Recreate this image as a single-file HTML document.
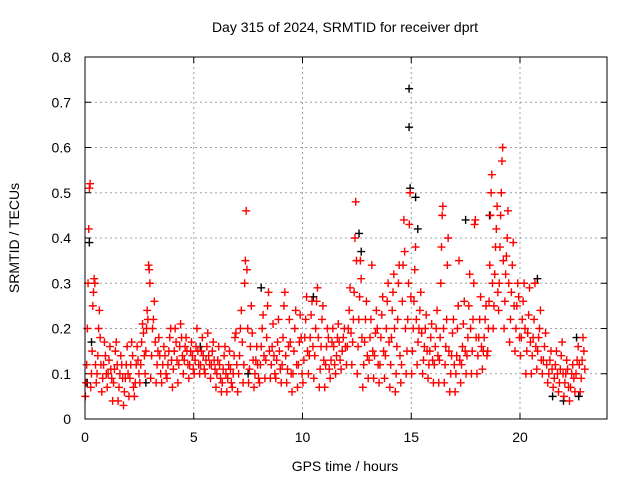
<!DOCTYPE html>
<html><head><meta charset="utf-8"><style>
body{margin:0;background:#fff;}
svg{display:block;font-family:"Liberation Sans",sans-serif;}
</style></head><body>
<svg id="chart" width="640" height="480">
<text x="345" y="32" font-size="14" text-anchor="middle">Day 315 of 2024, SRMTID for receiver dprt</text>
<text x="345" y="471" font-size="14" text-anchor="middle">GPS time / hours</text>
<text transform="translate(19,238) rotate(-90)" font-size="14" text-anchor="middle">SRMTID / TECUs</text>
<g id="grid"></g>
<g id="ticks"></g>
<g id="black"></g>
<g id="red"></g>
<rect x="85" y="57" width="522" height="362" fill="none" stroke="#000" stroke-width="1"/>
</svg>
<script>
const xTicks=[0,5,10,15,20];
const yTicks=[0,0.1,0.2,0.3,0.4,0.5,0.6,0.7,0.8];
const yTickLabels=["0","0.1","0.2","0.3","0.4","0.5","0.6","0.7","0.8"];
const binStart=0, binWidth=0.25;
const redBins=[
[0.05,0.08,0.12,0.2,0.3,0.42,0.51,0.52],[0.07,0.1,0.15,0.25,0.28,0.31,0.3,0.12],[0.08,0.1,0.14,0.2,0.24,0.18,0.12],[0.06,0.09,0.12,0.17,0.14,0.1],
[0.07,0.1,0.13,0.16,0.11,0.09],[0.04,0.08,0.11,0.15,0.17,0.12],[0.04,0.07,0.1,0.14,0.12,0.09],[0.03,0.06,0.09,0.12,0.16,0.1],
[0.05,0.09,0.12,0.17,0.14,0.07],[0.05,0.08,0.12,0.16,0.13,0.1],[0.08,0.12,0.17,0.21,0.19,0.14],[0.1,0.15,0.2,0.24,0.22,0.34,0.33,0.3],
[0.09,0.14,0.2,0.22,0.26,0.17],[0.08,0.12,0.15,0.18,0.14,0.1],[0.08,0.12,0.16,0.14,0.1],[0.09,0.12,0.15,0.18,0.2,0.13],
[0.07,0.11,0.15,0.2,0.17,0.13],[0.08,0.12,0.16,0.21,0.18,0.14],[0.1,0.13,0.16,0.18,0.15,0.12],[0.09,0.12,0.15,0.17,0.14,0.11],
[0.1,0.13,0.16,0.2,0.15,0.12],[0.1,0.12,0.15,0.18,0.14,0.11],[0.1,0.13,0.16,0.19,0.14,0.12],[0.09,0.12,0.15,0.17,0.13,0.11],
[0.07,0.1,0.13,0.16,0.12,0.09],[0.06,0.08,0.11,0.14,0.16,0.1],[0.06,0.09,0.12,0.15,0.11,0.08],[0.07,0.1,0.14,0.18,0.19,0.12],
[0.06,0.1,0.14,0.2,0.24,0.17],[0.08,0.12,0.3,0.35,0.46,0.33,0.2],[0.08,0.11,0.16,0.25,0.19,0.13],[0.07,0.1,0.13,0.16,0.12,0.09],
[0.08,0.12,0.16,0.2,0.23,0.14],[0.09,0.13,0.18,0.25,0.28,0.15],[0.09,0.12,0.16,0.21,0.14,0.1],[0.09,0.13,0.17,0.22,0.15,0.11],
[0.08,0.12,0.18,0.25,0.28,0.14],[0.08,0.11,0.16,0.22,0.17,0.1],[0.06,0.1,0.15,0.2,0.24,0.12],[0.07,0.12,0.17,0.23,0.18,0.1],
[0.08,0.13,0.18,0.22,0.27,0.15],[0.1,0.14,0.18,0.23,0.26,0.16],[0.09,0.14,0.2,0.26,0.29,0.18],[0.07,0.11,0.16,0.22,0.25,0.13],
[0.07,0.12,0.16,0.2,0.18,0.11],[0.09,0.13,0.17,0.2,0.16,0.12],[0.1,0.14,0.18,0.21,0.17,0.13],[0.11,0.15,0.18,0.2,0.16],
[0.12,0.16,0.2,0.24,0.29,0.19],[0.12,0.17,0.22,0.28,0.4,0.48,0.35],[0.1,0.16,0.22,0.27,0.35,0.31,0.18],[0.07,0.12,0.17,0.22,0.26,0.14],
[0.09,0.13,0.18,0.22,0.34,0.15],[0.09,0.14,0.19,0.24,0.2,0.12],[0.08,0.12,0.18,0.23,0.27,0.15],[0.09,0.14,0.2,0.26,0.3,0.17],
[0.07,0.12,0.18,0.24,0.28,0.32,0.2],[0.06,0.1,0.16,0.22,0.3,0.34,0.14],[0.08,0.12,0.26,0.34,0.44,0.37,0.2],[0.1,0.15,0.22,0.3,0.43,0.5,0.27],
[0.1,0.15,0.2,0.26,0.33,0.38,0.22],[0.12,0.17,0.2,0.24,0.28,0.19],[0.1,0.13,0.16,0.2,0.23,0.15],[0.09,0.12,0.15,0.18,0.21,0.13],
[0.08,0.12,0.16,0.2,0.24,0.14],[0.08,0.13,0.18,0.3,0.38,0.45,0.47,0.2],[0.08,0.12,0.16,0.22,0.34,0.4,0.15],[0.06,0.1,0.14,0.19,0.22,0.12],
[0.06,0.1,0.14,0.2,0.25,0.35,0.13],[0.08,0.12,0.16,0.21,0.26,0.15],[0.1,0.14,0.18,0.25,0.32,0.2],[0.1,0.15,0.22,0.3,0.43,0.44,0.18],
[0.1,0.14,0.18,0.22,0.27,0.16],[0.11,0.15,0.18,0.22,0.25,0.14],[0.15,0.2,0.26,0.34,0.45,0.5,0.54,0.3],[0.2,0.25,0.32,0.38,0.42,0.47,0.28],
[0.24,0.3,0.38,0.45,0.5,0.57,0.6,0.35],[0.2,0.26,0.32,0.36,0.4,0.46,0.3],[0.17,0.22,0.28,0.34,0.39,0.25],[0.15,0.2,0.25,0.3,0.27,0.18],
[0.14,0.18,0.22,0.26,0.3,0.2],[0.1,0.15,0.19,0.23,0.29,0.17],[0.1,0.14,0.18,0.22,0.3,0.16],[0.11,0.15,0.18,0.2,0.24,0.13],
[0.1,0.13,0.16,0.19,0.12],[0.08,0.1,0.13,0.15,0.11],[0.07,0.09,0.12,0.15,0.1],[0.06,0.08,0.11,0.14,0.17,0.1],
[0.05,0.08,0.1,0.13,0.11,0.07],[0.04,0.07,0.1,0.12,0.09],[0.06,0.1,0.13,0.16,0.12],[0.06,0.09,0.13,0.18,0.15,0.11]
];
const blackTimes=[0.1,0.2,0.3,2.8,8.1,12.6,12.7,14.9,14.9,14.95,15.2,15.3,17.5,18.6,20.8,21.5,22.0,22.6,22.7,10.5,5.3,7.5];
const blackVals=[0.08,0.39,0.17,0.08,0.29,0.41,0.37,0.73,0.645,0.51,0.49,0.42,0.44,0.45,0.31,0.05,0.04,0.18,0.05,0.27,0.16,0.1];
const X=t=>85+t*(522/24), Y=v=>419-v*(362/0.8);
const ns="http://www.w3.org/2000/svg";
const grid=document.getElementById('grid'),ticks=document.getElementById('ticks');
function mk(tag,attrs,parent){const e=document.createElementNS(ns,tag);for(const k in attrs)e.setAttribute(k,attrs[k]);parent.appendChild(e);return e;}
xTicks.forEach(t=>{const x=X(t);
 if(t>0){const l=mk('line',{x1:x,y1:57,x2:x,y2:419,stroke:'#a0a0a0','stroke-dasharray':'2,3'},grid);}
 mk('line',{x1:x,y1:419,x2:x,y2:413,stroke:'#000'},ticks);mk('line',{x1:x,y1:57,x2:x,y2:63,stroke:'#000'},ticks);
 const tx=mk('text',{x:x,y:442,'font-size':14,'text-anchor':'middle'},ticks);tx.textContent=t;
 });
yTicks.forEach((v,i)=>{const y=Y(v);
 if(i>0&&i<yTicks.length-1){const l=mk('line',{x1:85,y1:y,x2:607,y2:y,stroke:'#a0a0a0','stroke-dasharray':'2,3'},grid);}
 mk('line',{x1:85,y1:y,x2:91,y2:y,stroke:'#000'},ticks);mk('line',{x1:607,y1:y,x2:601,y2:y,stroke:'#000'},ticks);
 const tx=mk('text',{x:71,y:y+5,'font-size':14,'text-anchor':'end'},ticks);tx.textContent=yTickLabels[i];
 });
function plus(g,x,y,c){const p=mk('path',{d:`M${x-4},${y}h8M${x},${y-4}v8`,stroke:c,'stroke-width':1.4,fill:'none'},g);
 }
const bg=document.getElementById('black');
blackTimes.forEach((t,i)=>plus(bg,X(t),Y(blackVals[i]),'#000'));
const rg=document.getElementById('red');
redBins.forEach((vals,i)=>{vals.forEach((v,j)=>{const t=binStart+i*binWidth+(j+0.5)*binWidth/vals.length;plus(rg,X(t),Y(v),'#f00');});});
</script>
</body></html>
